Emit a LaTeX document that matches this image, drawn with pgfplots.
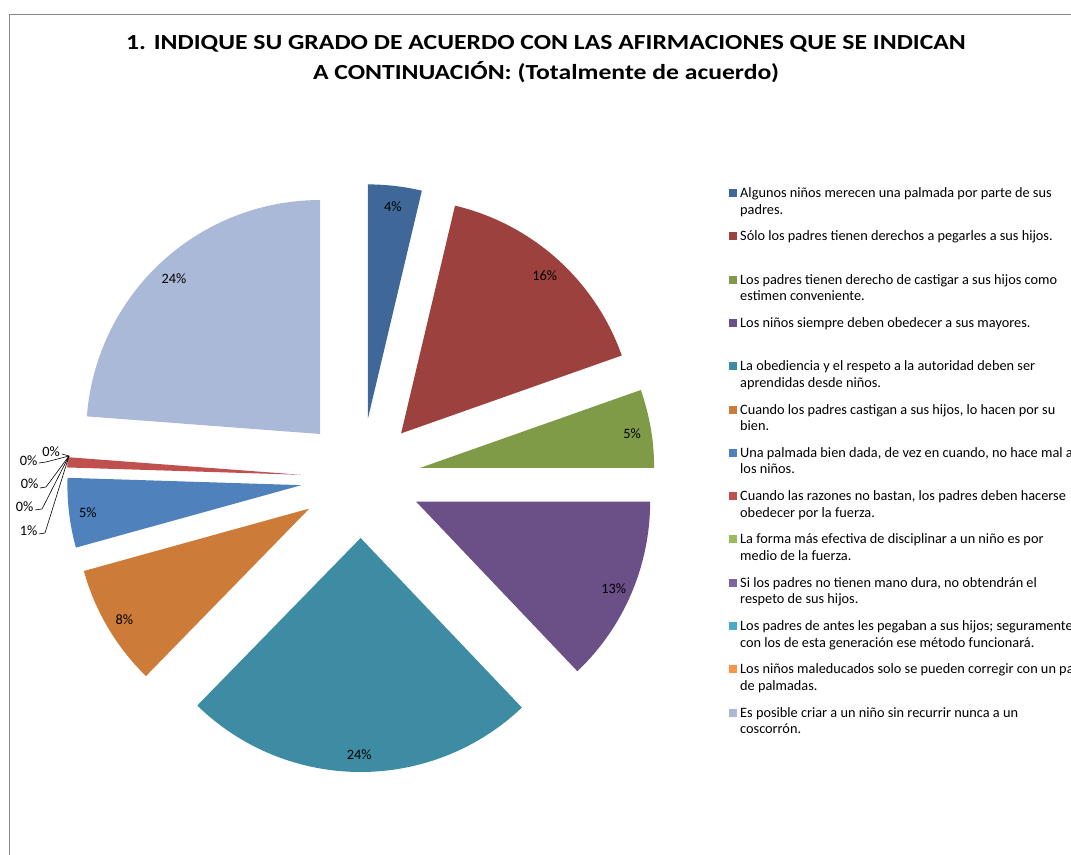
\documentclass[border=0pt]{standalone}
\usepackage{graphicx}
\usepackage{pgfplots}
\pgfplotsset{compat=1.18}
\usepackage{pgfplotstable}
\usepackage{fontspec}
\setmainfont{Carlito}
\definecolor{c0}{HTML}{3F6898}
\definecolor{c1}{HTML}{9D413E}
\definecolor{c2}{HTML}{7F9B48}
\definecolor{c3}{HTML}{6A5087}
\definecolor{c4}{HTML}{3D8CA3}
\definecolor{c5}{HTML}{CC7B38}
\definecolor{c6}{HTML}{4F81BD}
\definecolor{c7}{HTML}{C0504D}
\definecolor{c8}{HTML}{9BBB59}
\definecolor{c9}{HTML}{8064A2}
\definecolor{c10}{HTML}{4BACC6}
\definecolor{c11}{HTML}{F79646}
\definecolor{c12}{HTML}{AAB9D7}
\definecolor{framegray}{HTML}{868686}

% share of each statement (percent), and its rounded label
\pgfplotstableread{
value pct
3.7  4
15.9 16
5.4  5
12.9 13
24.4 24
8.4  8
4.8  5
0.7  1
0    0
0    0
0    0
0    0
23.8 24
}\piedata

\def\cx{361}\def\cy{478}\def\dd{60}\def\RR{234}\def\rl{215}
\def\acc{0}
\def\nzlist{}
\def\inlist{}
\pgfplotsforeachungrouped \i in {0,...,12}{%
  \pgfplotstablegetelem{\i}{value}\of\piedata
  \let\v\pgfplotsretval
  \pgfmathsetmacro\a{3.6*\acc}%
  \pgfmathsetmacro\acc{\acc+\v}%
  \pgfmathsetmacro\b{3.6*\acc}%
  \pgfmathsetmacro\m{(\a+\b)/2}%
  \pgfmathsetmacro\vx{\cx+\dd*sin(\m)}%
  \pgfmathsetmacro\vy{\cy-\dd*cos(\m)}%
  \pgfmathsetmacro\lx{\vx+\rl*sin(\m)}%
  \pgfmathsetmacro\ly{\vy-\rl*cos(\m)}%
  \expandafter\xdef\csname sA\i\endcsname{\a}%
  \expandafter\xdef\csname sB\i\endcsname{\b}%
  \expandafter\xdef\csname vx\i\endcsname{\vx}%
  \expandafter\xdef\csname vy\i\endcsname{\vy}%
  \expandafter\xdef\csname lx\i\endcsname{\lx}%
  \expandafter\xdef\csname ly\i\endcsname{\ly}%
  \pgfplotstablegetelem{\i}{pct}\of\piedata
  \expandafter\xdef\csname pc\i\endcsname{\pgfplotsretval}%
  \ifdim\v pt>0pt
    \ifx\nzlist\empty\xdef\nzlist{\i}\else\xdef\nzlist{\nzlist,\i}\fi
  \fi
  \ifdim\v pt>2pt
    \ifx\inlist\empty\xdef\inlist{\i}\else\xdef\inlist{\inlist,\i}\fi
  \fi
}

\newcommand\legfont{\fontsize{14.3bp}{16bp}\selectfont}
\newcommand\titlefont{\fontsize{21.5bp}{24bp}\selectfont\bfseries}
\newcommand\leg[4]{%
  \fill[#2] (728.5,{197.5+43.3*#1-8.5}) rectangle (736.5,{197.5+43.3*#1-0.5});
  \node[anchor=base west, inner sep=0pt, font=\legfont] at (740,{197.5+43.3*#1}) {#3};
  \node[anchor=base west, inner sep=0pt, font=\legfont] at (740,{214+43.3*#1}) {#4};
}

\begin{document}
\begin{tikzpicture}
\path[use as bounding box, clip] (0,0) rectangle (1071bp,855bp);
\begin{axis}[
  at={(0,0)}, anchor=south west,
  width=1071bp, height=855bp, scale only axis,
  xmin=0, xmax=1071, ymin=0, ymax=855, y dir=reverse,
  hide axis, clip=false]

% frame
\draw[framegray, line width=1bp] (9.5,860) -- (9.5,15) -- (1080,15);

% title
\node[anchor=base, inner sep=0pt, font=\titlefont]
  at (546,50) {\scalebox{1.195}[1]{1. INDIQUE SU GRADO DE ACUERDO CON LAS AFIRMACIONES QUE SE INDICAN}};
\node[anchor=base, inner sep=0pt, font=\titlefont]
  at (546,80) {\scalebox{1.195}[1]{A CONTINUACIÓN: (Totalmente de acuerdo)}};

% slices
\expandafter\pgfplotsinvokeforeach\expandafter{\nzlist}{%
  \fill[c#1] (\csname vx#1\endcsname,\csname vy#1\endcsname)
    -- plot[domain=\csname sA#1\endcsname:\csname sB#1\endcsname, samples=80, variable=\t]
       ({\csname vx#1\endcsname+\RR*sin(\t)},{\csname vy#1\endcsname-\RR*cos(\t)}) -- cycle;
}
% inside labels
\expandafter\pgfplotsinvokeforeach\expandafter{\inlist}{%
  \node[font=\legfont, inner sep=0pt] at (\csname lx#1\endcsname,{\csname ly#1\endcsname+2}) {\csname pc#1\endcsname\%};
}
% outside labels with leaders
\draw[black, line width=0.6bp] (62,454) -- (69,456);
\draw[black, line width=0.6bp] (39,463) -- (46,462) -- (69,456);
\draw[black, line width=0.6bp] (40,488) -- (46,487) -- (69,456);
\draw[black, line width=0.6bp] (35,510) -- (42,509) -- (69,456);
\draw[black, line width=0.6bp] (39,534) -- (45,533) -- (69,456);
\node[font=\legfont, inner sep=0pt] at (51,452) {0\%};
\node[font=\legfont, inner sep=0pt] at (28.5,461) {0\%};
\node[font=\legfont, inner sep=0pt] at (29.5,484) {0\%};
\node[font=\legfont, inner sep=0pt] at (24.5,507) {0\%};
\node[font=\legfont, inner sep=0pt] at (28.5,531) {1\%};

% legend
\leg{0}{c0}{Algunos niños merecen una palmada por parte de sus}{padres.}
\leg{1}{c1}{Sólo los padres tienen derechos a pegarles a sus hijos.}{}
\leg{2}{c2}{Los padres tienen derecho de castigar a sus hijos como}{estimen conveniente.}
\leg{3}{c3}{Los niños siempre deben obedecer a sus mayores.}{}
\leg{4}{c4}{La obediencia y el respeto a la autoridad deben ser}{aprendidas desde niños.}
\leg{5}{c5}{Cuando los padres castigan a sus hijos, lo hacen por su}{bien.}
\leg{6}{c6}{Una palmada bien dada, de vez en cuando, no hace mal a}{los niños.}
\leg{7}{c7}{Cuando las razones no bastan, los padres deben hacerse}{obedecer por la fuerza.}
\leg{8}{c8}{La forma más efectiva de disciplinar a un niño es por}{medio de la fuerza.}
\leg{9}{c9}{Si los padres no tienen mano dura, no obtendrán el}{respeto de sus hijos.}
\leg{10}{c10}{Los padres de antes les pegaban a sus hijos; seguramente}{con los de esta generación ese método funcionará.}
\leg{11}{c11}{Los niños maleducados solo se pueden corregir con un par}{de palmadas.}
\leg{12}{c12}{Es posible criar a un niño sin recurrir nunca a un}{coscorrón.}
\end{axis}
\end{tikzpicture}
\end{document}
